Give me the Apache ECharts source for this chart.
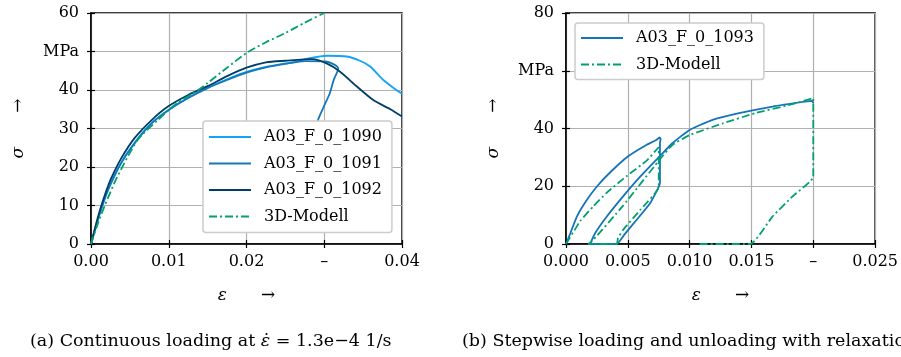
<!DOCTYPE html>
<html>
<head>
<meta charset="utf-8">
<script src="https://cdn.jsdelivr.net/npm/echarts@6/dist/echarts.min.js"></script>
<style>
html,body{margin:0;padding:0;background:#fff;}
#c{width:901px;height:357px;}
</style>
</head>
<body>
<div id="c"></div>
<script>
// ---------- Data: (a) continuous loading ----------
const eps1090 = [0, 0.001, 0.002, 0.003, 0.004, 0.005, 0.0065, 0.008, 0.01, 0.0125, 0.015, 0.0175, 0.02, 0.0225, 0.025, 0.0265, 0.028, 0.0303, 0.0329, 0.0346, 0.0359, 0.0376, 0.039, 0.04];
const sig1090 = [0, 7.2, 13.2, 17.8, 21.6, 24.6, 28.6, 31.8, 34.9, 38.0, 40.6, 42.8, 44.7, 46.0, 46.9, 47.4, 48.2, 48.9, 48.7, 47.6, 46.1, 42.6, 40.4, 39.0];

const eps1091 = [0, 0.001, 0.002, 0.003, 0.004, 0.005, 0.0065, 0.008, 0.01, 0.0125, 0.015, 0.0175, 0.02, 0.0225, 0.025, 0.0275, 0.0302, 0.0318, 0.0312, 0.0307, 0.0299, 0.0292, 0.0286, 0.028];
const sig1091 = [0, 7.0, 13.0, 17.6, 21.4, 24.5, 28.4, 31.7, 34.8, 37.9, 40.5, 42.6, 44.5, 45.9, 46.8, 47.5, 47.4, 45.6, 42.5, 39.1, 35.5, 32.2, 28.0, 24.0];

const eps1092 = [0, 0.001, 0.002, 0.0026, 0.0039, 0.0056, 0.0078, 0.0099, 0.0125, 0.015, 0.0175, 0.02, 0.0225, 0.025, 0.0284, 0.0303, 0.032, 0.0342, 0.0363, 0.0385, 0.04];
const sig1092 = [0, 7.8, 14.0, 17.1, 22.3, 27.5, 32.2, 35.7, 38.7, 41.0, 43.6, 45.8, 47.2, 47.6, 48.0, 46.9, 44.8, 40.9, 37.4, 35.0, 33.1];

const epsModelA = [0, 0.0009, 0.0018, 0.0033, 0.006, 0.0086, 0.011, 0.0138, 0.015, 0.0175, 0.02, 0.0225, 0.025, 0.0275, 0.03];
const sigModelA = [0, 5.4, 10.1, 17.1, 27.0, 32.2, 36.5, 40.0, 41.8, 45.8, 49.6, 52.4, 54.8, 57.5, 60.0];

// ---------- Data: (b) stepwise loading / unloading ----------
const eps1093 = [0, 0.00035, 0.00088, 0.00168, 0.0025, 0.0035, 0.005, 0.0065, 0.0073, 0.00757, 0.00765, 0.0076, 0.0076, 0.0075, 0.0068, 0.0057, 0.0048, 0.0041, 0.00195, 0.00235, 0.0033, 0.0046, 0.006, 0.0075, 0.0086, 0.01, 0.0118, 0.014, 0.0167, 0.0193, 0.0199, 0.02];
const sig1093 = [0, 3.7, 9.5, 15.2, 19.9, 24.5, 30.3, 34.3, 36.0, 36.9, 36.4, 35.0, 21.0, 19.8, 14.1, 8.3, 3.7, 0, 0, 3.7, 9.5, 16.4, 23.3, 30.0, 34.9, 39.5, 42.9, 45.3, 47.6, 49.3, 49.6, 48.7];

const epsModelB = [0, 0.00088, 0.00115, 0.0022, 0.0033, 0.0049, 0.0065, 0.0075, 0.0075, 0.006, 0.0046, 0.0042, 0.0041, 0.0018, 0.0022, 0.0046, 0.0075, 0.0086, 0.01, 0.0127, 0.0153, 0.018, 0.02, 0.02, 0.0183, 0.0167, 0.0149, 0.0106];
const sigModelB = [0, 6.1, 8.0, 13.0, 17.8, 23.5, 28.8, 33.5, 19.8, 11.8, 4.8, 2.0, 0, 0, 1.4, 13.2, 28.8, 34.3, 37.7, 41.8, 45.3, 48.1, 50.5, 23.3, 16.4, 9.5, 0, 0];

// ---------- Tick labels ----------
const xTicksA = ['0.00', '0.01', '0.02', '\u2013', '0.04'];
const yTicksA = ['0', '10', '20', '30', '40', 'MPa', '60'];
const xTicksB = ['0.000', '0.005', '0.010', '0.015', '\u2013', '0.025'];
const yTicksB = ['0', '20', '40', 'MPa', '80'];

const captionA = '(a) Continuous loading at {i|\u03b5\u0307} = 1.3e\u22124 1/s';
const captionB = '(b) Stepwise loading and unloading with relaxation';

const zip = (xs, ys) => xs.map((x, i) => [x, ys[i]]);

const FONT = 'DejaVu Serif';
const C1090 = '#12a4f5', C1091 = '#1677ba', C1092 = '#003f68', CMOD = '#00a06f', C1093 = '#1573b9';
const DASHDOT = [8, 3, 2, 3];
const nameRich = {
  e: { fontFamily: FONT, fontSize: 17, fontStyle: 'italic', color: '#000' },
  a: { fontFamily: FONT, fontSize: 17, color: '#000', padding: [0, 0, 0, 34] }
};

function xAxisMain(grid, max, interval, labels) {
  return {
    type: 'value', gridIndex: grid, min: 0, max: max, interval: interval, position: 'bottom',
    axisLine: { show: true, onZero: false, lineStyle: { color: '#000', width: 1.5 } },
    axisTick: { show: true, length: 4, lineStyle: { color: '#000', width: 1.2 } },
    axisLabel: { margin: 10, fontFamily: FONT, fontSize: 16, color: '#000',
      formatter: v => labels[Math.round(v / interval)] },
    splitLine: { show: true, lineStyle: { color: '#b0b0b0', width: 1.2 } },
    name: '{e|\u03b5}{a|\u2192}', nameLocation: 'middle', nameGap: 43,
    nameTextStyle: { fontFamily: FONT, fontSize: 17, color: '#000', rich: nameRich }
  };
}
function xAxisDup(grid, max, interval) {
  return {
    type: 'value', gridIndex: grid, min: 0, max: max, interval: interval, position: 'bottom',
    axisLine: { show: false, onZero: false }, axisLabel: { show: false }, splitLine: { show: false },
    axisTick: { show: true, inside: true, length: 4, lineStyle: { color: '#000', width: 1.2 } }
  };
}
function yAxisMain(grid, max, interval, labels) {
  return {
    type: 'value', gridIndex: grid, min: 0, max: max, interval: interval, position: 'left',
    axisLine: { show: true, onZero: false, lineStyle: { color: '#000', width: 1.5 } },
    axisTick: { show: true, length: 4, lineStyle: { color: '#000', width: 1.2 } },
    axisLabel: { margin: 12, fontFamily: FONT, fontSize: 16, color: '#000',
      formatter: v => labels[Math.round(v / interval)] },
    splitLine: { show: true, lineStyle: { color: '#b0b0b0', width: 1.2 } },
    name: '{e|\u03c3}{a|\u2192}', nameLocation: 'middle', nameGap: 64,
    nameTextStyle: { fontFamily: FONT, fontSize: 17, color: '#000', rich: nameRich }
  };
}
function yAxisDup(grid, max, interval) {
  return {
    type: 'value', gridIndex: grid, min: 0, max: max, interval: interval, position: 'left',
    axisLine: { show: false, onZero: false }, axisLabel: { show: false }, splitLine: { show: false },
    axisTick: { show: true, inside: true, length: 4, lineStyle: { color: '#000', width: 1.2 } }
  };
}
function line(name, data, color, xi, yi, dashed, smooth) {
  return {
    type: 'line', name: name, data: data, xAxisIndex: xi, yAxisIndex: yi,
    symbol: 'none', showSymbol: false, smooth: smooth, clip: true, animation: false,
    lineStyle: { color: color, width: 1.8, type: dashed ? DASHDOT : 'solid' },
    itemStyle: { color: color }
  };
}
const legendBase = {
  orient: 'vertical', itemWidth: 42, itemHeight: 14, itemGap: 10.5,
  backgroundColor: '#fff', borderColor: '#cccccc', borderWidth: 1.5, borderRadius: 3,
  itemStyle: { opacity: 0, borderWidth: 0 },
  textStyle: { fontFamily: FONT, fontSize: 16, color: '#000', padding: [0, 0, 0, 8] },
  selectedMode: false
};

const chart = echarts.init(document.getElementById('c'), null, { renderer: 'canvas' });
chart.setOption({
  animation: false,
  backgroundColor: '#fff',
  title: [
    { text: captionA, left: 30, top: 332, padding: 0,
      textStyle: { fontFamily: FONT, fontSize: 17.5, fontWeight: 'normal', color: '#000',
        rich: { i: { fontFamily: FONT, fontSize: 17.5, fontStyle: 'italic', color: '#000' } } } },
    { text: captionB, left: 462, top: 332, padding: 0,
      textStyle: { fontFamily: FONT, fontSize: 17.5, fontWeight: 'normal', color: '#000' } }
  ],
  grid: [
    { left: 91, top: 13, width: 311, height: 231, show: true, borderColor: '#000', borderWidth: 1.5, backgroundColor: 'transparent' },
    { left: 566, top: 13, width: 311, height: 231, show: true, borderColor: '#000', borderWidth: 1.5, backgroundColor: 'transparent' }
  ],
  xAxis: [
    xAxisMain(0, 0.04, 0.01, xTicksA), xAxisDup(0, 0.04, 0.01),
    xAxisMain(1, 0.025, 0.005, xTicksB), xAxisDup(1, 0.025, 0.005)
  ],
  yAxis: [
    yAxisMain(0, 60, 10, yTicksA), yAxisDup(0, 60, 10),
    yAxisMain(1, 80, 20, yTicksB), yAxisDup(1, 80, 20)
  ],
  legend: [
    Object.assign({}, legendBase, { left: 203, top: 121, padding: [8, 10, 8, 5],
      data: ['A03_F_0_1090', 'A03_F_0_1091', 'A03_F_0_1092', '3D-Modell'] }),
    Object.assign({}, legendBase, { left: 575, top: 23, padding: [7, 10, 7, 5],
      data: ['A03_F_0_1093', '3D-Modell'] })
  ],
  series: [
    line('A03_F_0_1090', zip(eps1090, sig1090), C1090, 0, 0, false, 0.25),
    line('A03_F_0_1091', zip(eps1091, sig1091), C1091, 0, 0, false, 0.25),
    line('A03_F_0_1092', zip(eps1092, sig1092), C1092, 0, 0, false, 0.25),
    line('3D-Modell', zip(epsModelA, sigModelA), CMOD, 0, 0, true, 0.25),
    line('A03_F_0_1093', zip(eps1093, sig1093), C1093, 2, 2, false, 0.15),
    line('3D-Modell', zip(epsModelB, sigModelB), CMOD, 2, 2, true, 0.15)
  ]
});
</script>
</body>
</html>
